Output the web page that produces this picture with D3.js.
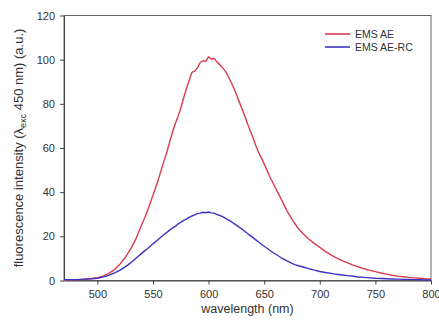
<!DOCTYPE html>
<html>
<head>
<meta charset="utf-8">
<script src="https://cdn.jsdelivr.net/npm/d3@7/dist/d3.min.js"></script>
<style>
  html, body { margin: 0; padding: 0; background: #fff; }
  svg { display: block; font-family: "Liberation Sans", Arial, sans-serif; }
</style>
</head>
<body>
<svg id="chart" width="439" height="326"></svg>
<script>
// Emission spectra, wavelength in nm (finer sampling across the band)
const wavelengths = [
  470, 475, 480, 485, 490, 495, 500, 505, 510, 515, 520, 525, 530, 535,
  540, 542.5, 545, 547.5, 550, 552.5, 555, 557.5, 560, 562.5, 565, 567.5,
  570, 572.5, 575, 577.5, 580, 582.5, 585, 587.5, 590, 592.5, 595, 597.5,
  600, 602.5, 605, 607.5, 610, 612.5, 615, 617.5, 620, 622.5, 625, 627.5,
  630, 632.5, 635, 637.5, 640, 642.5, 645, 647.5, 650, 652.5, 655, 657.5,
  660, 662.5, 665, 667.5, 670, 672.5, 675, 677.5, 680,
  685, 690, 695, 700, 705, 710, 715, 720, 725, 730, 735, 740, 745, 750,
  755, 760, 765, 770, 775, 780, 785, 790, 795, 800
];
const emsAE = [
  0.3, 0.3, 0.4, 0.5, 0.7, 0.9, 1.3, 2.0, 3.1, 4.8, 7.2, 10.4, 14.3, 19.2,
  25.5, 28.3, 31.6, 35.0, 38.6, 42.2, 46.0, 50.2, 54.3, 58.2, 62.8, 67.0,
  71.0, 74.3, 78.0, 82.5, 86.8, 90.6, 94.2, 94.8, 96.3, 98.7, 99.6, 99.2,
  101.3, 100.2, 100.6, 99.0, 97.8, 96.4, 94.8, 92.6, 90.0, 87.4, 84.2, 81.0,
  77.8, 74.6, 71.0, 67.8, 64.6, 61.0, 58.0, 55.4, 52.8, 50.0, 47.0, 44.6,
  42.0, 39.6, 37.2, 34.6, 32.0, 29.8, 27.8, 25.8, 24.0,
  21.2, 18.8, 16.8, 15.0, 13.2, 11.6, 10.2, 9.0, 8.0, 7.0, 6.1, 5.3, 4.6, 4.0,
  3.4, 2.9, 2.4, 2.0, 1.7, 1.4, 1.2, 1.0, 0.8, 0.7
];
const emsAERC = [
  0.4, 0.4, 0.4, 0.5, 0.6, 0.8, 1.0, 1.5, 2.3, 3.3, 4.6, 6.2, 8.0, 10.2,
  12.4, 13.4, 14.4, 15.5, 16.6, 17.6, 18.7, 19.8, 20.8, 21.8, 22.8, 23.8,
  24.5, 25.6, 26.3, 27.2, 27.8, 28.6, 29.2, 29.7, 30.3, 30.5, 30.9, 30.7,
  31.0, 30.6, 30.5, 29.9, 29.5, 28.9, 28.2, 27.5, 26.8, 25.9, 25.1, 24.2,
  23.3, 22.3, 21.3, 20.3, 19.4, 18.4, 17.4, 16.4, 15.5, 14.6, 13.7, 12.8,
  12.0, 11.2, 10.4, 9.7, 9.0, 8.4, 7.8, 7.2, 6.8,
  6.1, 5.4, 4.7, 4.1, 3.6, 3.2, 2.8, 2.5, 2.2, 1.9, 1.6, 1.4, 1.2, 1.0,
  0.9, 0.8, 0.7, 0.6, 0.5, 0.5, 0.4, 0.4, 0.3, 0.3
];
const seriesNames = ["EMS AE", "EMS AE-RC"];
const seriesColors = ["#da3c50", "#3d33c2"];
const xTicks = [500, 550, 600, 650, 700, 750, 800];
const yTicks = [0, 20, 40, 60, 80, 100, 120];

const svg = d3.select("#chart");
const m = { left: 64, right: 431, top: 15.5, bottom: 280.5 };

const x = d3.scaleLinear().domain([470, 800]).range([m.left, m.right]);
const y = d3.scaleLinear().domain([0, 120]).range([m.bottom, m.top]);

// frame
svg.append("rect")
  .attr("x", m.left).attr("y", m.top)
  .attr("width", m.right - m.left).attr("height", m.bottom - m.top)
  .attr("fill", "none").attr("stroke", "#666").attr("stroke-width", 1);

const xAxis = svg.append("g")
  .attr("transform", `translate(0,${m.bottom})`)
  .call(d3.axisBottom(x).tickValues(xTicks).tickSize(4).tickPadding(6).tickSizeOuter(0));
const yAxis = svg.append("g")
  .attr("transform", `translate(${m.left},0)`)
  .call(d3.axisLeft(y).tickValues(yTicks).tickSize(4).tickPadding(5).tickSizeOuter(0));

[xAxis, yAxis].forEach(g => {
  g.select(".domain").attr("stroke", "#444");
  g.selectAll(".tick line").attr("stroke", "#444");
  g.selectAll(".tick text").attr("fill", "#333").attr("font-size", 11)
    .attr("font-family", "\"Liberation Sans\", Arial, sans-serif");
});

const line = d3.line()
  .x((d, i) => x(wavelengths[i]))
  .y(d => y(d));

[emsAE, emsAERC].forEach((vals, k) => {
  svg.append("path")
    .datum(vals)
    .attr("fill", "none")
    .attr("stroke", seriesColors[k])
    .attr("stroke-width", 1.4)
    .attr("stroke-linejoin", "round")
    .attr("d", line);
});

// legend
const legend = svg.append("g").attr("transform", "translate(325,34)");
seriesNames.forEach((name, k) => {
  const row = legend.append("g").attr("transform", `translate(0,${k * 13})`);
  row.append("line").attr("x1", 0).attr("x2", 25).attr("y1", 0).attr("y2", 0)
    .attr("stroke", seriesColors[k]).attr("stroke-width", 1.6);
  row.append("text").attr("x", 30).attr("y", 4)
    .attr("font-size", 10.5).attr("fill", "#333").text(name);
});

// axis titles
svg.append("text")
  .attr("x", (m.left + m.right) / 2).attr("y", 313)
  .attr("text-anchor", "middle").attr("font-size", 12.5).attr("fill", "#333")
  .text("wavelength (nm)");

const yTitle = svg.append("text")
  .attr("transform", `translate(23,${(m.top + m.bottom) / 2}) rotate(-90)`)
  .attr("text-anchor", "middle").attr("font-size", 13).attr("fill", "#333");
yTitle.append("tspan").text("fluorescence intensity (λ");
yTitle.append("tspan").attr("font-size", 9).attr("dy", 3).text("exc");
yTitle.append("tspan").attr("dy", -3).text(" 450 nm) (a.u.)");
</script>
</body>
</html>
